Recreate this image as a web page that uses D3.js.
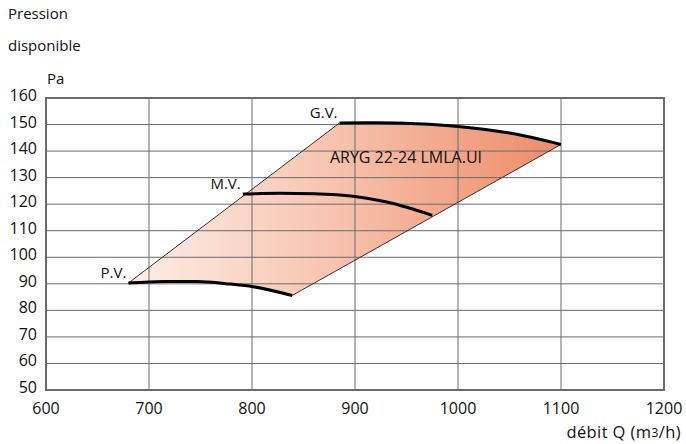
<!DOCTYPE html>
<html>
<head>
<meta charset="utf-8">
<script src="https://cdn.jsdelivr.net/npm/d3@7"></script>
<style>
html,body{margin:0;padding:0;background:#fff;}
svg{display:block;font-family:"Open Sans","Noto Sans",sans-serif;}
</style>
</head>
<body>
<svg id="chart" width="686" height="444"></svg>
<script>
// ---- data ----
const xTicks = [600, 700, 800, 900, 1000, 1100, 1200];
const yTicks = [50, 60, 70, 80, 90, 100, 110, 120, 130, 140, 150, 160];
const pvQ = [680, 714, 746, 779, 801, 839];
const pvP = [90.3, 90.9, 90.9, 89.9, 88.9, 85.6];
const mvQ = [791, 827, 860, 898, 931, 975];
const mvP = [123.8, 124.1, 123.9, 123.0, 120.8, 115.8];
const gvQ = [885, 920, 960, 1000, 1050, 1100];
const gvP = [150.6, 150.7, 150.3, 149.3, 146.8, 142.5];
const curveLabels = ["P.V.", "M.V.", "G.V."];
const modelLabel = "ARYG 22-24 LMLA.UI";

const svg = d3.select("#chart");
const x = d3.scaleLinear().domain([600, 1200]).range([46, 664]);
const y = d3.scaleLinear().domain([50, 160]).range([390, 98]);

const zip = (q, p) => q.map((v, i) => [v, p[i]]);
const pv = zip(pvQ, pvP), mv = zip(mvQ, mvP), gv = zip(gvQ, gvP);

// gradient
const defs = svg.append("defs");
const grad = defs.append("linearGradient").attr("id", "fillGrad")
  .attr("gradientUnits", "userSpaceOnUse")
  .attr("x1", x(680)).attr("x2", x(1100)).attr("y1", 0).attr("y2", 0);
grad.append("stop").attr("offset", 0).attr("stop-color", "#fdeee8");
grad.append("stop").attr("offset", 0.45).attr("stop-color", "#f7c6b2");
grad.append("stop").attr("offset", 1).attr("stop-color", "#ee8b68");

const gridColor = "#6b6b6b";
const line = d3.line().x(d => x(d[0])).y(d => y(d[1])).curve(d3.curveMonotoneX);

// region
const pvPath = line(pv);
const gvRevPath = line(gv.slice().reverse());
svg.append("path")
  .attr("d", pvPath + "L" + gvRevPath.slice(1) + "Z")
  .attr("fill", "url(#fillGrad)");

// grid (visible over fill)
svg.append("g").selectAll("line").data(xTicks.slice(1, -1)).join("line")
  .attr("x1", d => x(d)).attr("x2", d => x(d)).attr("y1", y(160)).attr("y2", y(50))
  .attr("stroke", gridColor).attr("stroke-width", 1);
svg.append("g").selectAll("line").data(yTicks.slice(1, -1)).join("line")
  .attr("x1", x(600)).attr("x2", x(1200)).attr("y1", d => y(d)).attr("y2", d => y(d))
  .attr("stroke", gridColor).attr("stroke-width", 1);

// edges
const edges = [[pv[0], gv[0]], [pv[pv.length - 1], gv[gv.length - 1]]];
svg.append("g").selectAll("line").data(edges).join("line")
  .attr("x1", d => x(d[0][0])).attr("y1", d => y(d[0][1]))
  .attr("x2", d => x(d[1][0])).attr("y2", d => y(d[1][1]))
  .attr("stroke", "#333").attr("stroke-width", 1);

// border
svg.append("rect")
  .attr("x", x(600)).attr("y", y(160))
  .attr("width", x(1200) - x(600)).attr("height", y(50) - y(160))
  .attr("fill", "none").attr("stroke", "#6b6b6b").attr("stroke-width", 2);

// curves
[pv, mv, gv].forEach(c => {
  svg.append("path").attr("d", line(c))
    .attr("fill", "none").attr("stroke", "#000").attr("stroke-width", 3)
    .attr("stroke-linecap", "butt");
});

// curve labels
[pv, mv, gv].forEach((c, i) => {
  svg.append("text")
    .attr("x", x(c[0][0]) - 2).attr("y", y(c[0][1]) - 5)
    .attr("text-anchor", "end")
    .attr("font-size", 15).attr("fill", "#111")
    .text(curveLabels[i]);
});

// model label
svg.append("text").attr("x", x(949.5)).attr("y", y(135.7))
  .attr("text-anchor", "middle").attr("font-size", 16).attr("fill", "#111")
  .text(modelLabel);

// y tick labels
svg.append("g").selectAll("text").data(yTicks).join("text")
  .attr("x", 37).attr("y", d => y(d) + 3)
  .attr("text-anchor", "end").attr("font-size", 16).attr("fill", "#111")
  .text(d => d);

// x tick labels
svg.append("g").selectAll("text").data(xTicks).join("text")
  .attr("x", d => x(d)).attr("y", 414)
  .attr("text-anchor", "middle").attr("font-size", 16).attr("fill", "#111")
  .text(d => d);

// axis titles
svg.append("text").attr("x", 8).attr("y", 19).attr("font-size", 15).attr("fill", "#111").text("Pression");
svg.append("text").attr("x", 8).attr("y", 51).attr("font-size", 15).attr("fill", "#111").text("disponible");
svg.append("text").attr("x", 47).attr("y", 84).attr("font-size", 15).attr("fill", "#111").text("Pa");

const xt = svg.append("text").attr("x", 681).attr("y", 438).attr("text-anchor", "end")
  .attr("font-size", 16.5).attr("letter-spacing", 0.4).attr("fill", "#111");
xt.append("tspan").text("débit Q (m");
xt.append("tspan").attr("font-size", 12).attr("dy", -1).text("3");
xt.append("tspan").attr("dy", 1).text("/h)");
</script>
</body>
</html>
